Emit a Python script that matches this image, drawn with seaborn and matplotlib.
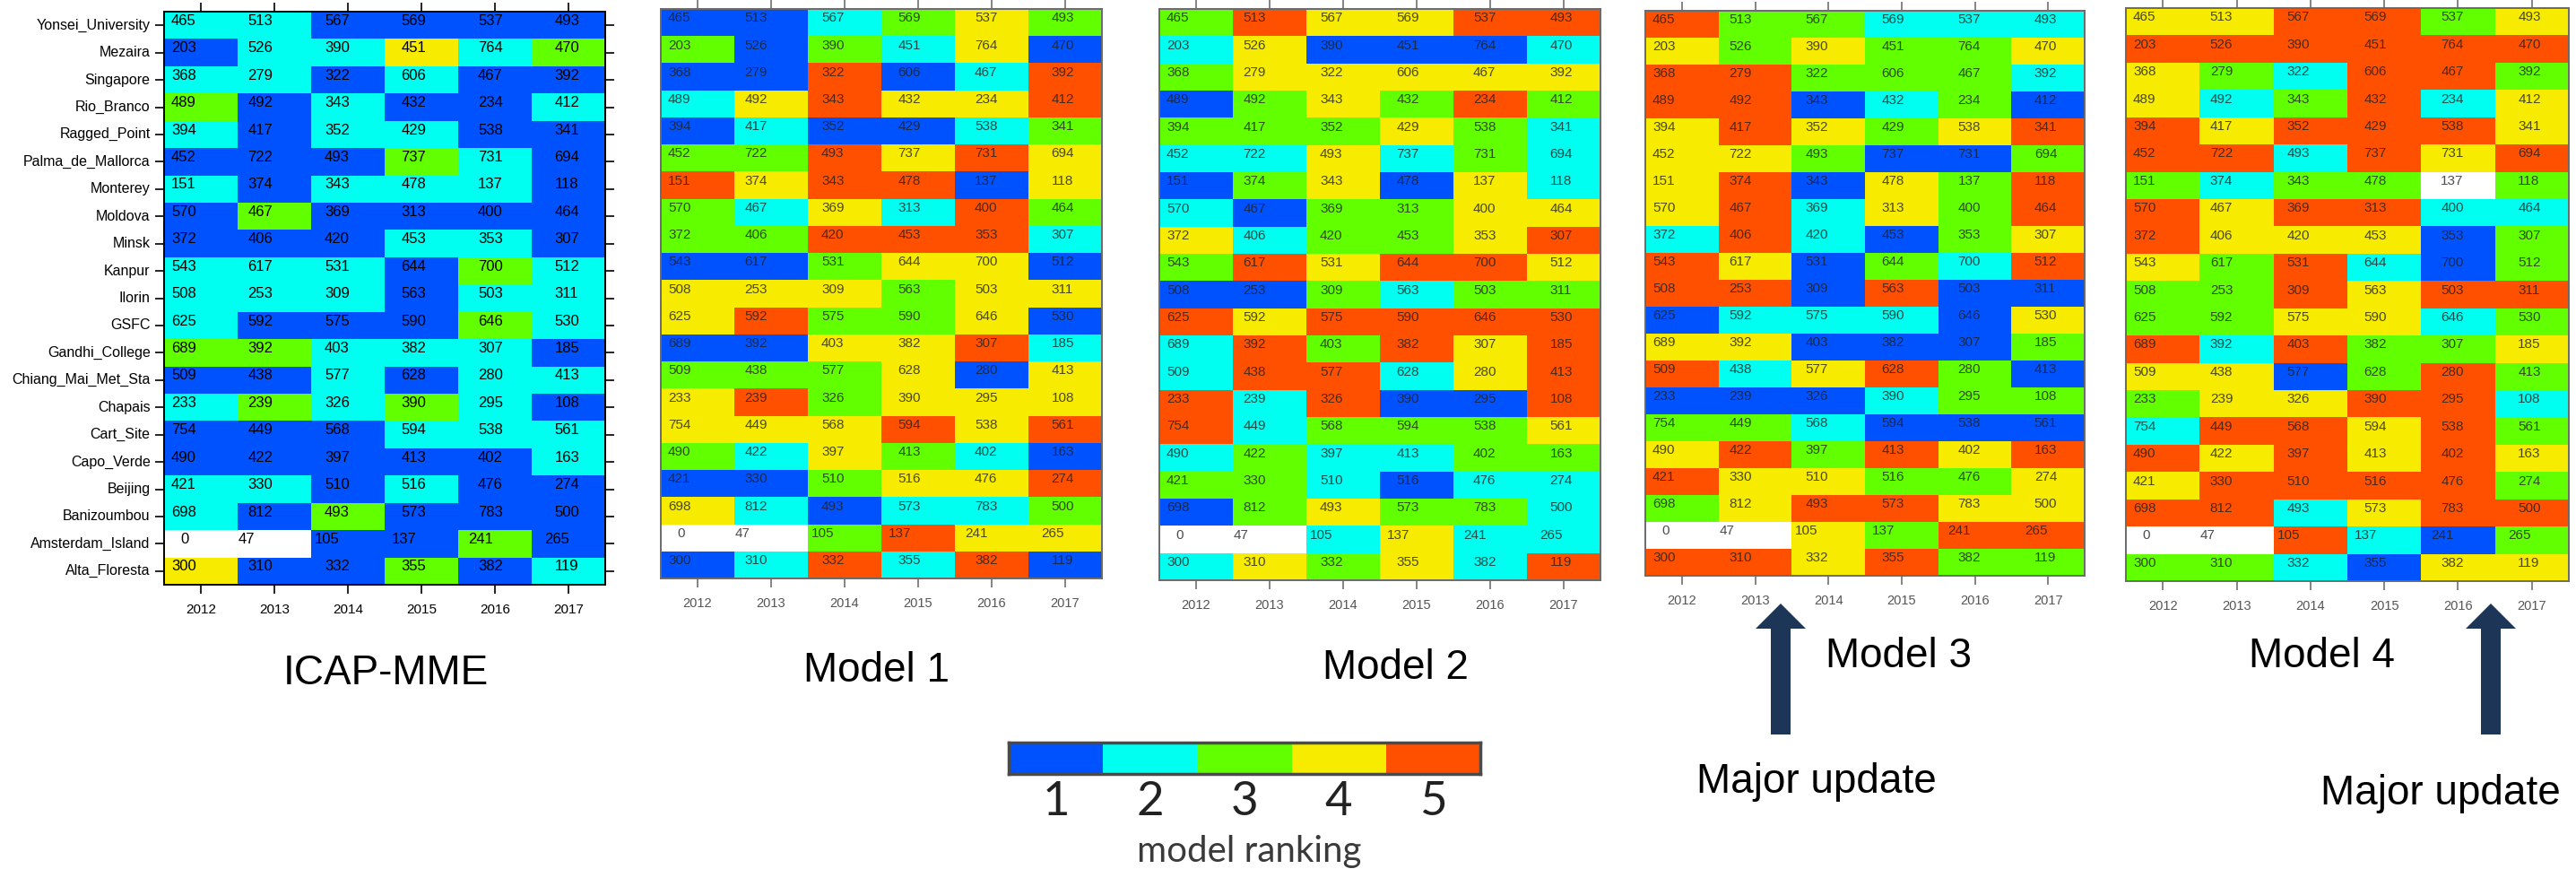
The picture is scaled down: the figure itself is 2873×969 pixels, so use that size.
import numpy as np
import pandas as pd
import matplotlib
matplotlib.use("Agg")
import matplotlib.pyplot as plt
from matplotlib.colors import ListedColormap
from matplotlib.patches import FancyArrow
import seaborn as sns

N = np.nan

years = ["2012", "2013", "2014", "2015", "2016", "2017"]
sites = ["Yonsei_University", "Mezaira", "Singapore", "Rio_Branco", "Ragged_Point",
         "Palma_de_Mallorca", "Monterey", "Moldova", "Minsk", "Kanpur", "Ilorin",
         "GSFC", "Gandhi_College", "Chiang_Mai_Met_Sta", "Chapais", "Cart_Site",
         "Capo_Verde", "Beijing", "Banizoumbou", "Amsterdam_Island", "Alta_Floresta"]

counts = [
    [465, 513, 567, 569, 537, 493],
    [203, 526, 390, 451, 764, 470],
    [368, 279, 322, 606, 467, 392],
    [489, 492, 343, 432, 234, 412],
    [394, 417, 352, 429, 538, 341],
    [452, 722, 493, 737, 731, 694],
    [151, 374, 343, 478, 137, 118],
    [570, 467, 369, 313, 400, 464],
    [372, 406, 420, 453, 353, 307],
    [543, 617, 531, 644, 700, 512],
    [508, 253, 309, 563, 503, 311],
    [625, 592, 575, 590, 646, 530],
    [689, 392, 403, 382, 307, 185],
    [509, 438, 577, 628, 280, 413],
    [233, 239, 326, 390, 295, 108],
    [754, 449, 568, 594, 538, 561],
    [490, 422, 397, 413, 402, 163],
    [421, 330, 510, 516, 476, 274],
    [698, 812, 493, 573, 783, 500],
    [0, 47, 105, 137, 241, 265],
    [300, 310, 332, 355, 382, 119],
]

rank_icap = [
    [2, 2, 1, 1, 1, 1], [1, 2, 2, 4, 2, 3], [2, 2, 1, 2, 1, 1], [3, 1, 2, 1, 1, 2],
    [2, 1, 2, 2, 1, 1], [1, 1, 1, 3, 2, 1], [2, 1, 2, 2, 2, 1], [1, 3, 1, 1, 1, 1],
    [1, 1, 1, 2, 2, 1], [2, 2, 2, 1, 3, 2], [2, 2, 2, 1, 2, 2], [2, 1, 1, 1, 3, 2],
    [3, 3, 2, 2, 2, 1], [1, 1, 2, 1, 2, 2], [2, 3, 2, 3, 2, 1], [1, 1, 1, 2, 2, 2],
    [1, 1, 1, 1, 1, 2], [2, 2, 1, 2, 1, 1], [2, 1, 3, 1, 1, 1], [N, N, 1, 1, 3, 1],
    [4, 1, 1, 3, 1, 2],
]
rank_m1 = [
    [1, 1, 2, 3, 4, 3], [3, 1, 3, 2, 4, 1], [1, 1, 5, 1, 2, 5], [2, 4, 5, 4, 4, 5],
    [1, 2, 1, 1, 2, 3], [3, 3, 5, 4, 5, 4], [5, 4, 5, 5, 1, 4], [3, 2, 4, 2, 5, 3],
    [3, 3, 5, 5, 5, 2], [1, 1, 3, 4, 4, 1], [4, 4, 4, 3, 4, 4], [4, 5, 3, 3, 4, 1],
    [1, 1, 4, 4, 5, 2], [3, 3, 3, 4, 1, 4], [4, 5, 3, 4, 4, 4], [4, 4, 4, 5, 4, 5],
    [3, 2, 4, 3, 2, 1], [1, 1, 3, 4, 4, 5], [4, 2, 1, 2, 2, 3], [N, N, 3, 5, 4, 4],
    [1, 2, 5, 2, 5, 1],
]
rank_m2 = [
    [3, 5, 4, 4, 5, 5], [2, 4, 1, 1, 1, 2], [3, 4, 4, 4, 4, 4], [1, 3, 4, 3, 5, 3],
    [3, 3, 3, 4, 3, 2], [2, 2, 4, 2, 3, 2], [1, 3, 4, 1, 4, 2], [2, 1, 3, 3, 4, 4],
    [4, 2, 3, 3, 4, 5], [3, 5, 4, 5, 5, 4], [1, 1, 3, 2, 3, 3], [5, 4, 5, 5, 5, 5],
    [2, 5, 3, 5, 4, 5], [2, 5, 5, 2, 4, 5], [5, 2, 5, 1, 1, 5], [5, 2, 3, 3, 3, 4],
    [2, 3, 2, 2, 3, 3], [3, 3, 2, 1, 2, 2], [1, 3, 4, 3, 3, 2], [N, N, 2, 4, 2, 2],
    [2, 4, 3, 4, 2, 5],
]
rank_m3 = [
    [5, 3, 3, 2, 2, 2], [4, 3, 4, 3, 3, 4], [5, 5, 3, 3, 3, 2], [5, 5, 1, 2, 3, 1],
    [4, 5, 4, 3, 4, 5], [4, 4, 3, 1, 1, 3], [4, 5, 1, 4, 3, 5], [4, 5, 2, 4, 3, 5],
    [2, 5, 2, 1, 3, 4], [5, 4, 1, 3, 2, 5], [5, 5, 1, 5, 1, 1], [1, 2, 2, 2, 1, 4],
    [4, 4, 1, 1, 1, 3], [5, 2, 4, 5, 3, 1], [1, 1, 1, 2, 3, 3], [3, 3, 2, 1, 1, 1],
    [4, 5, 3, 5, 4, 5], [5, 4, 4, 3, 3, 4], [3, 4, 5, 5, 4, 4], [N, N, 4, 3, 5, 5],
    [5, 5, 4, 5, 3, 3],
]
rank_m4 = [
    [4, 4, 5, 5, 3, 4], [5, 5, 5, 5, 5, 5], [4, 3, 2, 5, 5, 3], [4, 2, 3, 5, 2, 4],
    [5, 4, 5, 5, 5, 4], [5, 5, 2, 5, 4, 5], [3, 2, 3, 3, N, 3], [5, 4, 5, 5, 2, 2],
    [5, 4, 4, 4, 1, 3], [4, 3, 5, 2, 1, 3], [3, 3, 5, 4, 5, 5], [3, 3, 4, 4, 2, 3],
    [5, 2, 5, 3, 3, 4], [4, 4, 1, 3, 5, 3], [3, 4, 4, 5, 5, 2], [2, 5, 5, 4, 5, 3],
    [5, 4, 5, 4, 5, 4], [4, 5, 5, 5, 5, 3], [5, 5, 2, 4, 5, 5], [N, N, 5, 2, 1, 3],
    [3, 3, 2, 1, 4, 4],
]

panel_titles = ["ICAP-MME", "Model 1", "Model 2", "Model 3", "Model 4"]
rank_levels = [1, 2, 3, 4, 5]
cbar_label = "model ranking"
update_label = "Major update"

rank_colors = ["#0052ff", "#00fff0", "#62ff00", "#f7ec00", "#ff5000"]
cmap = ListedColormap(rank_colors)

W, H = 2873, 969
fig = plt.figure(figsize=(W / 100, H / 100), dpi=100)
plt.rcParams['font.family'] = ['Liberation Sans', 'DejaVu Sans']


def px_axes(x0, y0, x1, y1):
    return fig.add_axes([x0 / W, 1 - y1 / H, (x1 - x0) / W, (y1 - y0) / H])


# panel boxes in pixels (x0, y0, x1, y1)
boxes = [(183, 13, 675, 652), (737, 10, 1229, 645), (1293, 10, 1785, 647),
         (1835, 12, 2325, 642), (2371, 9, 2865, 648)]
ranks_all = [rank_icap, rank_m1, rank_m2, rank_m3, rank_m4]
cnt = np.array(counts)

for p, (box, rk) in enumerate(zip(boxes, ranks_all)):
    ax = px_axes(*box)
    df = pd.DataFrame(np.array(rk, dtype=float), index=sites, columns=years)
    sns.heatmap(df, ax=ax, cmap=cmap, vmin=0.5, vmax=5.5, cbar=False,
                linewidths=0, xticklabels=True, yticklabels=(p == 0))
    for s in ax.spines.values():
        s.set_visible(True)
        s.set_color("black" if p == 0 else "#6a6a6a")
        s.set_linewidth(1.4)
    ax.tick_params(axis="both", which="both", direction="out", top=True, right=True,
                   left=True, bottom=True, length=7, width=1.2,
                   color="black" if p == 0 else "#707070")
    ax.tick_params(axis="x", labelsize=11 if p == 0 else 10.5, pad=8,
                   labelcolor="black" if p == 0 else "#555555", rotation=0)
    if p == 0:
        ax.tick_params(axis="y", labelsize=11.5, pad=4, rotation=0)
    else:
        ax.set_yticklabels([])
    ax.set_xlabel("")
    ax.set_ylabel("")
    cw = (box[2] - box[0]) / 6.0
    nrow = len(sites)
    for i in range(nrow):
        for j in range(6):
            off = 8 + 3.5 * j
            if sites[i] == "Amsterdam_Island":
                off = 18 if j == 0 else off - 11
            ax.text(j + off / cw, i + 0.34, str(cnt[i, j]), ha="left", va="center",
                    fontsize=12 if p == 0 else 11,
                    color="black" if p == 0 else "#202020",
                    alpha=1.0 if p == 0 else 0.8)

# colorbar-like legend
cax = px_axes(1125, 828, 1651, 863)
sns.heatmap(pd.DataFrame([rank_levels]), ax=cax, cmap=cmap, vmin=0.5, vmax=5.5,
            cbar=False, linewidths=0, yticklabels=False)
for s in cax.spines.values():
    s.set_visible(True)
    s.set_color("#4a4a4a")
    s.set_linewidth(2.5)
cax.set_xticklabels([str(v) for v in rank_levels], rotation=0)
cax.tick_params(axis="x", length=0, pad=6, labelsize=38)
for t in cax.get_xticklabels():
    t.set_family(["Lato", "DejaVu Sans"])
    t.set_color("#222222")
cax.set_ylabel("")
cax.set_xlabel("")

# overlay in pixel units for titles and arrows
ov = fig.add_axes([0, 0, 1, 1], facecolor="none")
ov.set_xlim(0, W)
ov.set_ylim(H, 0)
ov.axis("off")

title_pos = [(430, 751), (978, 748), (1556, 745), (2117, 732), (2590, 732)]
for t, (x, y) in zip(panel_titles, title_pos):
    ov.text(x, y, t, ha="center", va="center", fontsize=33, color="black")

ov.text(1393, 950, cbar_label, ha="center", va="center", fontsize=29,
        color="#3a3a3a", family=["Lato", "DejaVu Sans"])

arrow_color = "#1d3658"
for x in (1986, 2778):
    ov.add_patch(FancyArrow(x, 819, 0, -146, width=22, head_width=56, head_length=28,
                            length_includes_head=True, color=arrow_color, lw=0))
ov.text(2026, 872, update_label, ha="center", va="center", fontsize=33, color="black")
ov.text(2722, 885, update_label, ha="center", va="center", fontsize=33, color="black")

fig.savefig("out.png", dpi=100)
